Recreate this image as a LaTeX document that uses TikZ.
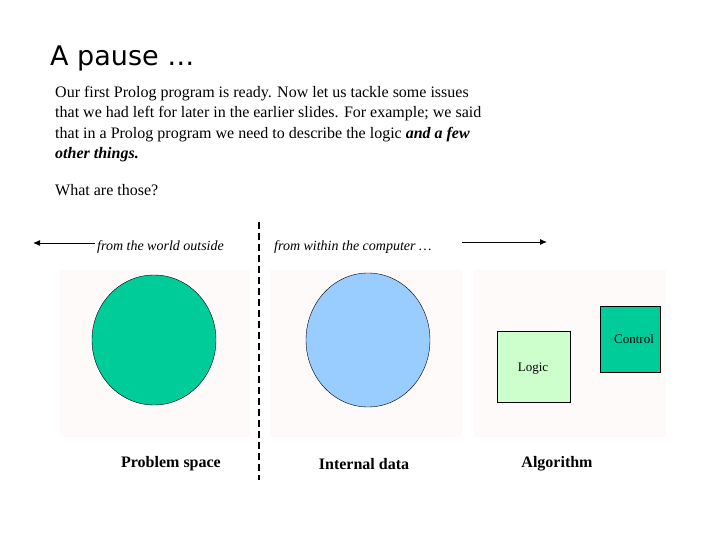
\documentclass[tikz,border=0pt]{standalone}
\usepackage{fontspec}
\usetikzlibrary{arrows.meta}
\setmainfont{Liberation Serif}
\newfontfamily\titlefont{DejaVu Sans}
\begin{document}
\begin{tikzpicture}[x=1pt,y=-1pt,
  pane/.style={fill=pink!8!white, draw=none},
  body/.style={anchor=north west, align=left, font=\fontsize{16}{20.3}\selectfont, inner sep=0pt},
  lab/.style={font=\bfseries\fontsize{16}{18}\selectfont},
  small/.style={font=\itshape\fontsize{14}{16}\selectfont, inner sep=1pt}]
\useasboundingbox (0,0) rectangle (720,540);
\fill[white] (0,0) rectangle (720,540);
\node[anchor=west, font=\titlefont\fontsize{27}{30}\selectfont, inner sep=0pt] (title) at (50,58) {A pause …};
\node[body] (para) at (55,86) {Our first Prolog program is ready. Now let us tackle some issues\\that we had left for later in the earlier slides. For example; we said\\that in a Prolog program we need to describe the logic \textbf{\textit{and a few}}\\\textbf{\textit{other things.}}};
\node[body] (q) at (55,184) {What are those?};
\node[pane] (p1) at (155,353.5) [minimum width=190, minimum height=167] {};
\node[pane] (p2) at (366,353.5) [minimum width=192, minimum height=167] {};
\node[pane] (p3) at (570,353.5) [minimum width=192, minimum height=167] {};
\fill[fill={rgb,255:red,0;green,204;blue,153}, draw=black] (154,340) ellipse [x radius=62, y radius=65];
\fill[fill={rgb,255:red,153;green,204;blue,255}, draw=black] (368,340) ellipse [x radius=62, y radius=67];
\node[draw=black, fill={rgb,255:red,204;green,255;blue,204}, minimum width=73, minimum height=71] (logic) at (533.5,366.5) {};
\node[font=\fontsize{13}{15}\selectfont] at (533,369) {Logic};
\node[draw=black, fill={rgb,255:red,0;green,204;blue,153}, minimum width=60, minimum height=66] (control) at (630,339) {};
\node[font=\fontsize{13}{15}\selectfont] at (634,339) {Control};
\draw[line width=2.5pt, dash pattern=on 7pt off 4pt] (259,222) coordinate (d1) -- (259,480) coordinate (d2);
\node[small, anchor=west] (fw) at (96,247) {from the world outside};
\coordinate (la) at (33,243);
\draw[-{Latex[length=7pt,width=6pt]}, line width=1pt] (95,243) -- (la);
\node[small, anchor=west] (fc) at (273,247) {from within the computer …};
\coordinate (ra) at (547,242);
\draw[-{Latex[length=7pt,width=6pt]}, line width=1pt] (462,242) -- (ra);
\node[lab] (l1) at (171,464) {Problem space};
\node[lab] (l2) at (364,464) {Internal data};
\node[lab] (l3) at (557,464) {Algorithm};
\end{tikzpicture}
\end{document}
